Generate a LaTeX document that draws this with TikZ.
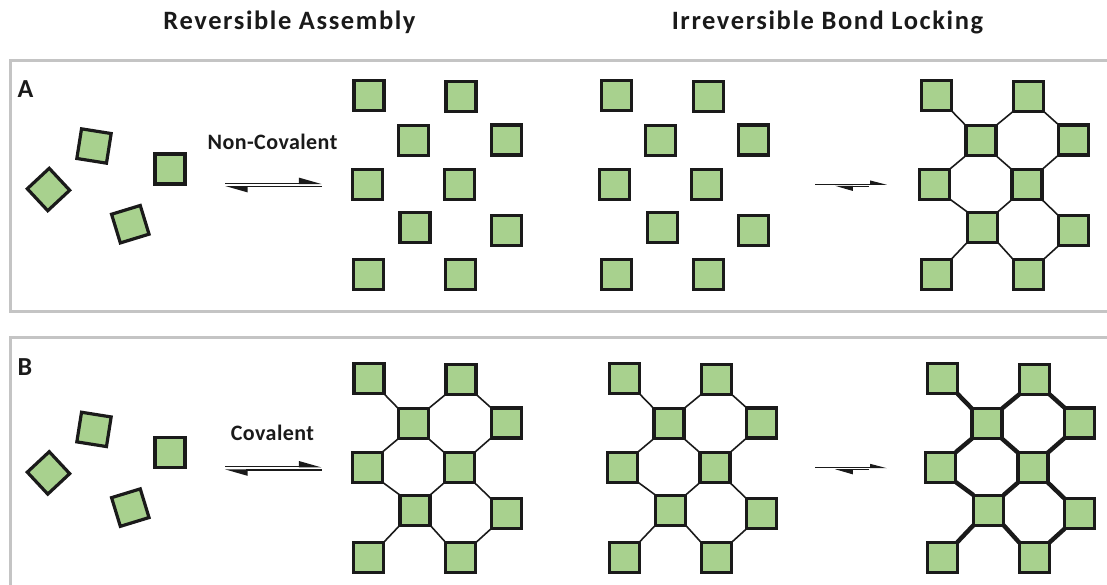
\documentclass[tikz,border=0pt]{standalone}
\usepackage{fontspec}
\setmainfont{Carlito}
\usetikzlibrary{arrows.meta}

\definecolor{tilegreen}{HTML}{A8D18E}
\definecolor{ink}{HTML}{1A1A1A}
\definecolor{rim}{HTML}{C4C4C4}

% one lattice of ten tiles: #1 name prefix, #2/#3 offset
\newcommand\tilelattice[3]{%
  \foreach \i/\px/\py in {1/369.0/95.8, 2/460.9/96.2, 3/413.4/140.6, 4/506.2/139.9,
                          5/367.3/184.1, 6/459.4/184.6, 7/415.0/227.1, 8/506.1/230.7,
                          9/368.8/274.2, 10/460.8/274.6}
    \node[tile] (#1-\i) at ({\px+#2},{\py+#3}) {};
}
% corner-to-corner links of a lattice: #1 name prefix, #2 line style
\newcommand\tilelinks[2]{%
  \foreach \a/\aa/\b/\bb in {1/south east/3/north west, 3/north east/2/south west,
      2/south east/4/north west, 3/south west/5/north east, 3/south east/6/north west,
      4/south west/6/north east, 5/south east/7/north west, 6/south west/7/north east,
      6/south east/8/north west, 7/south west/9/north east, 7/south east/10/north west,
      8/south west/10/north east}
    \draw[#2] (#1-\a.\aa) -- (#1-\b.\bb);
}
% scattered monomers: #1 name prefix, #2 vertical offset
\newcommand\freetiles[2]{%
  \node[tile, rotate=-9] (#1-1) at (94,{146+#2}) {};
  \node[tile, rotate=43] (#1-2) at (48.5,{189.5+#2}) {};
  \node[tile] (#1-3) at (170,{169+#2}) {};
  \node[tile, rotate=17] (#1-4) at (130.3,{224.2+#2}) {};
}

\begin{document}
\begin{tikzpicture}[x=1pt,y=-1pt,
  tile/.style={rectangle, draw=ink, fill=tilegreen, line width=3.2pt,
               minimum size=30pt, inner sep=0pt, outer sep=0pt},
  link/.style={draw=ink, line width=1.6pt},
  boldlink/.style={draw=ink, line width=4.4pt},
  frame/.style={draw=rim, line width=3pt},
  heading/.style={text=ink, anchor=base, inner sep=0pt,
                  font=\fontsize{26.5}{30}\selectfont\bfseries\addfontfeature{LetterSpace=6}},
  tag/.style={text=ink, anchor=base, inner sep=0pt,
              font=\fontsize{22}{26}\selectfont\bfseries\addfontfeature{LetterSpace=2}},
  panel/.style={text=ink, anchor=base west, inner sep=0pt,
                font=\fontsize{26}{30}\selectfont\bfseries},
  eqarrow/.style={draw=ink, line width=1.4pt,
                  -{Triangle[harpoon, length=20pt, width=11pt]}},
  fwdsmall/.style={draw=ink, line width=1pt,
                   -{Triangle[harpoon, length=15pt, width=7.5pt]}},
  backsmall/.style={draw=ink, line width=1pt,
                    -{Triangle[harpoon, length=16pt, width=9pt]}}]

\useasboundingbox (0,0) rectangle (1107,584);

% panel frames, open to the right
\draw[frame] (1110,60) -- (10,60) -- (10,311.5) -- (1110,311.5);
\draw[frame] (1110,337) -- (10,337) -- (10,590);

% headings
\node[heading] (h1) at (289.5,29.3) {Reversible Assembly};
\node[heading] (h2) at (827.5,29.3) {Irreversible Bond Locking};
\node[panel] (pA) at (17.5,97) {A};
\node[panel] (pB) at (17.5,375) {B};

% ---------- panel A ----------
\freetiles{mA}{0}
\node[tag] (lA) at (272.5,149) {Non-Covalent};
\coordinate (eA1) at (225,183.3);
\coordinate (eA2) at (321.5,183.3);
\coordinate (eA3) at (321.5,186.7);
\coordinate (eA4) at (225,186.7);
\draw[eqarrow] (eA1) -- (eA2);
\draw[eqarrow] (eA3) -- (eA4);

\tilelattice{A2}{0}{0}
\tilelattice{A3}{247.4}{0}

\coordinate (sA1) at (815,184.3);
\coordinate (sA2) at (887,184.3);
\coordinate (sA3) at (868.5,186.3);
\coordinate (sA4) at (835,186.3);
\draw[fwdsmall] (sA1) -- (sA2);
\draw[backsmall] (sA3) -- (sA4);

\tilelattice{A4}{567.5}{0}
\tilelinks{A4}{link}

% ---------- panel B ----------
\freetiles{mB}{283.4}
\node[tag] (lB) at (272.5,440) {Covalent};
\coordinate (eB1) at (225,466.7);
\coordinate (eB2) at (321.5,466.7);
\coordinate (eB3) at (321.5,470.1);
\coordinate (eB4) at (225,470.1);
\draw[eqarrow] (eB1) -- (eB2);
\draw[eqarrow] (eB3) -- (eB4);

\tilelattice{B2}{0}{283}
\tilelinks{B2}{link}
\tilelattice{B3}{255.5}{283}
\tilelinks{B3}{link}

\coordinate (sB1) at (815,467.7);
\coordinate (sB2) at (887,467.7);
\coordinate (sB3) at (868.5,469.7);
\coordinate (sB4) at (835,469.7);
\draw[fwdsmall] (sB1) -- (sB2);
\draw[backsmall] (sB3) -- (sB4);

\tilelattice{B4}{573.5}{283}
\tilelinks{B4}{boldlink}

\end{tikzpicture}
\end{document}
